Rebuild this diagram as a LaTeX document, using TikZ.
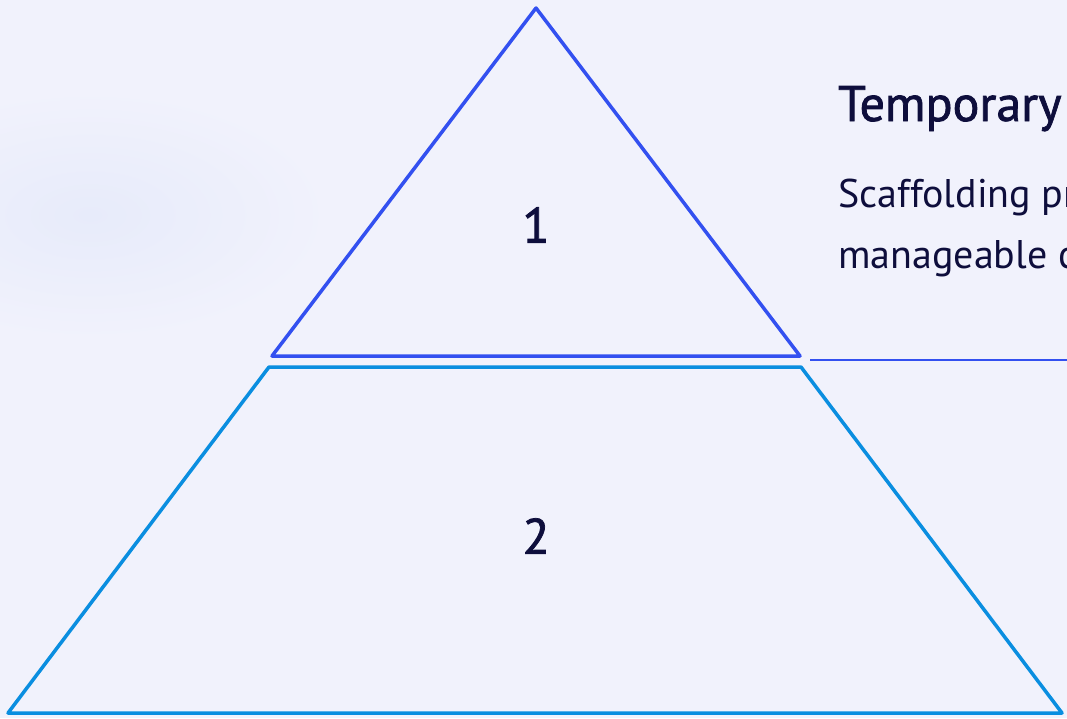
\documentclass[tikz,border=0pt]{standalone}
\usepackage{xcolor}
\usepackage{fontspec}
\setmainfont{PT Sans}
\newfontfamily\headfont[FakeBold=1.5]{PT Sans}
\usetikzlibrary{positioning}

\definecolor{bgpaper}{HTML}{F1F2FC}
\definecolor{blobblue}{HTML}{E7EBFA}
\definecolor{tierone}{HTML}{3350F0}
\definecolor{tiertwo}{HTML}{0A8EE0}
\definecolor{inkdark}{HTML}{0E0E3C}

\begin{document}
\begin{tikzpicture}[x=1pt, y=-1pt]
    \fill[bgpaper] (0,0) rectangle (1067,718);
    \useasboundingbox (0,0) rectangle (1067,718);
    \shade[inner color=blobblue, outer color=bgpaper] (90,215) ellipse (240 and 125);

    % pyramid corners
    \coordinate (apex) at (536,8);
    \coordinate (topL) at (272,356);
    \coordinate (topR) at (800,356);
    \coordinate (lowTL) at (269,367);
    \coordinate (lowTR) at (801,367);
    \coordinate (lowBL) at (8,713);
    \coordinate (lowBR) at (1062,713);

    \draw[tierone, line width=3.5pt, line join=round] (apex) -- (topR) -- (topL) -- cycle;
    \draw[tiertwo, line width=3.5pt, line join=round] (lowTL) -- (lowTR) -- (lowBR) -- (lowBL) -- cycle;

    \node[text=inkdark, font=\headfont\fontsize{50}{56}\selectfont] (one) at (536,225) {1};
    \node[text=inkdark, font=\headfont\fontsize{50}{56}\selectfont] (two) at (536,536) {2};

    \node[anchor=base west, inner sep=0pt, text=inkdark, font=\headfont\fontsize{50}{56}\selectfont] (title) at (838,121) {Temporary};
    \node[anchor=base west, inner sep=0pt, text=inkdark, font=\fontsize{40}{46}\selectfont] (lineA) at (838,207) {Scaffolding pr};
    \node[anchor=base west, inner sep=0pt, text=inkdark, font=\fontsize{40}{46}\selectfont] (lineB) at (838,268) {manageable c};

    \coordinate (ruleL) at (810,360);
    \coordinate (ruleR) at (1067,360);
    \draw[tierone, line width=1.5pt] (ruleL) -- (ruleR);
\end{tikzpicture}
\end{document}
